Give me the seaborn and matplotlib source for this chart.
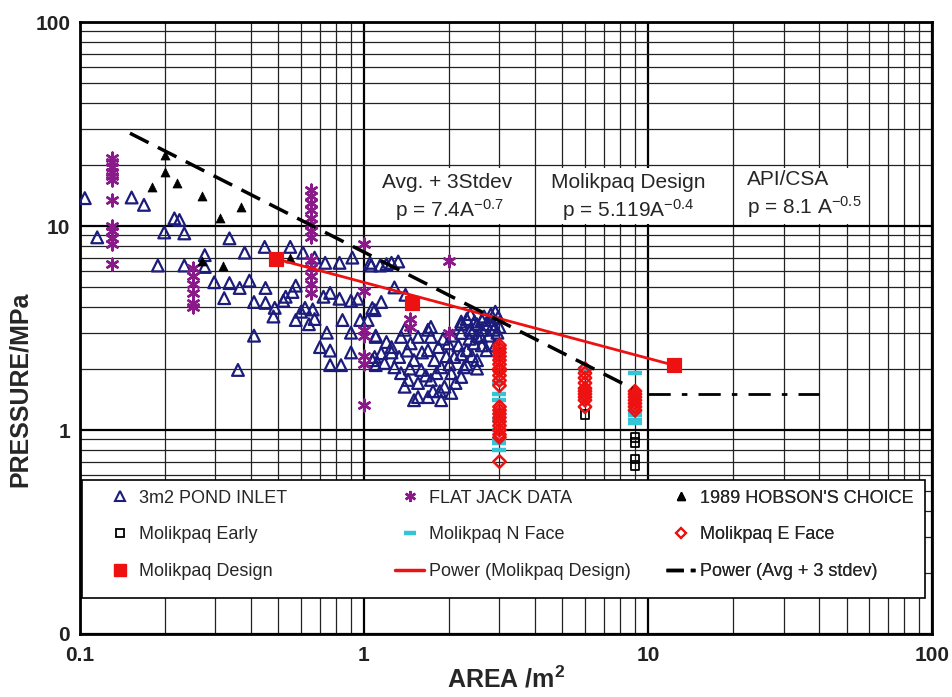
import matplotlib
matplotlib.use("Agg")
import matplotlib.pyplot as plt
from matplotlib.lines import Line2D
from matplotlib.patches import Rectangle
from matplotlib.ticker import NullFormatter
import pandas as pd
import seaborn as sns

# ---- data ----
pond_x = [0.104, 0.152, 0.168, 0.115, 0.215, 0.224, 0.198, 0.233, 0.188, 0.233,
          0.275, 0.275, 0.336, 0.38, 0.297, 0.336, 0.365, 0.395, 0.322, 0.41,
          0.447, 0.55, 0.61, 0.67, 0.73, 0.82, 0.91, 1.05, 1.14, 0.45,
          0.45, 0.485, 0.48, 0.52, 0.53, 0.575, 0.62, 0.66, 0.575, 0.67,
          0.72, 0.76, 0.82, 0.9, 0.95, 1.07, 1.1, 0.84, 0.9, 0.97,
          0.7, 0.76, 0.9, 0.76, 0.83, 0.41, 0.36, 1.07, 1.1, 0.56,
          0.6, 0.64, 0.74, 1.2, 1.32, 1.4,
          1.06, 1.25, 1.28, 1.15, 1.09, 1.1, 1.03, 1.15, 1.25, 1.35,
          1.39, 1.33, 1.46, 1.55, 1.5, 1.43, 1.39, 1.55, 1.59, 1.5,
          1.68, 1.72, 1.77, 1.68, 1.83, 1.72, 1.87, 1.92, 1.87, 2.03,
          2.03, 2.08, 1.98, 2.2, 2.25, 2.3, 2.2, 2.37, 2.5, 2.44,
          2.6, 2.58, 2.8, 2.86, 2.7, 2.97, 3.0, 2.5, 2.37, 2.2,
          1.68, 1.72, 1.09, 1.18, 1.28, 2.2,
          2.3, 2.4, 2.5, 2.6, 2.65, 2.7, 2.75, 2.8, 2.85, 2.9,
          2.95, 2.9, 2.6, 2.35, 2.45, 2.15, 2.05, 1.95, 1.8, 1.75,
          1.65, 1.6, 1.45, 1.55, 1.35, 1.25, 1.2, 1.42, 2.1, 2.3,
          2.5, 2.4, 1.9, 1.85, 2.0, 2.2]
pond_y = [13.7, 13.8, 12.7, 8.8, 10.9, 10.7, 9.3, 9.2, 6.4, 6.4,
          7.2, 6.3, 8.7, 7.4, 5.3, 5.25, 4.97, 5.4, 4.43, 4.24,
          7.9, 7.9, 7.4, 7.0, 6.6, 6.6, 7.0, 6.6, 6.4, 4.97,
          4.2, 3.97, 3.6, 4.3, 4.5, 5.1, 3.97, 3.9, 3.46, 3.5,
          4.5, 4.7, 4.4, 4.3, 4.4, 3.96, 2.9, 3.46, 3.0, 3.46,
          2.55, 2.45, 2.4, 2.08, 2.08, 2.9, 1.97, 2.2, 2.08, 4.75,
          3.8, 3.3, 3.0, 6.5, 6.7, 4.6,
          6.4, 6.6, 5.0, 4.24, 3.87, 2.86, 3.46, 2.38, 2.55, 2.86,
          3.1, 2.28, 2.66, 2.86, 2.2, 1.76, 1.63, 1.7, 1.97, 1.4,
          1.45, 1.76, 2.2, 2.46, 2.55, 2.86, 2.03, 1.63, 1.4, 1.52,
          1.9, 2.28, 2.66, 3.3, 2.03, 2.46, 1.82, 3.1, 3.3, 2.66,
          3.46, 2.86, 3.46, 3.1, 2.46, 3.58, 3.2, 2.2, 3.7, 2.99,
          3.1, 3.2, 2.28, 2.13, 2.03, 3.4,
          3.5, 3.0, 2.9, 3.1, 3.6, 3.3, 2.9, 3.7, 3.3, 2.6,
          3.0, 3.8, 2.6, 2.8, 3.4, 2.6, 2.9, 2.3, 1.9, 1.55,
          1.85, 2.4, 2.0, 1.45, 1.9, 2.4, 2.7, 2.45, 1.7, 2.1,
          2.0, 2.3, 2.8, 1.55, 2.1, 2.35]

flat_x = [0.13] * 12 + [0.25] * 6 + [0.65] * 13 + [1.0] * 7 + [1.45] * 2 + [2.0] * 2
flat_y = [21.5, 20.5, 19.5, 18.5, 17.5, 16.8, 13.4, 10.0, 9.4, 8.7, 8.2, 6.5,
          6.2, 5.7, 5.2, 4.7, 4.2, 4.0,
          15.0, 14.0, 13.0, 12.0, 11.0, 10.2, 9.5, 8.8, 6.8, 6.2, 5.7, 5.2, 4.7,
          8.2, 4.8, 3.1, 2.9, 2.3, 2.1, 1.33,
          3.5, 3.2,
          6.7, 3.0]

hobson_x = [0.2, 0.2, 0.18, 0.22, 0.27, 0.37, 0.31, 0.32, 0.27, 0.55]
hobson_y = [22.3, 18.4, 15.5, 16.3, 14.0, 12.4, 10.9, 6.4, 6.7, 7.0]

early_x = [6, 9, 9, 9, 9]
early_y = [1.19, 0.92, 0.87, 0.72, 0.67]

nface_x = [3] * 8 + [6] + [9] * 5
nface_y = [1.7, 1.5, 1.4, 1.12, 1.0, 0.9, 0.86, 0.8,
           2.0,
           1.9, 1.22, 1.18, 1.12, 1.08]

eface_x = [3] * 21 + [6] * 10 + [9] * 7
eface_y = [2.6, 2.5, 2.4, 2.3, 2.2, 2.1, 2.0, 1.95, 1.85, 1.75, 1.65,
           1.3, 1.25, 1.2, 1.15, 1.1, 1.05, 1.0, 0.95, 0.92, 0.7,
           2.0, 1.9, 1.8, 1.7, 1.6, 1.55, 1.5, 1.45, 1.4, 1.3,
           1.55, 1.5, 1.45, 1.4, 1.35, 1.3, 1.25]

design_x = [0.49, 1.47, 12.3]
design_y = [6.9, 4.2, 2.08]

fit_design_x = [0.49, 12.3]
fit_design_y = [6.9, 2.08]

fit_avg_x = [0.15, 8.8]
fit_avg_y = [28.5, 1.6]

api_x = [10, 40]
api_y = [1.5, 1.5]

xticks = [0.1, 1, 10, 100]
xtick_labels = ["0.1", "1", "10", "100"]
yticks = [0.1, 1, 10, 100]
ytick_labels = ["0", "1", "10", "100"]

NAVY = "#1c1c7c"
PURPLE = "#8a1a8a"
CYAN = "#33c4d8"
RED = "#ee1111"

sns.set_style("white")
plt.rcParams["font.family"] = ["Liberation Sans", "DejaVu Sans"]
plt.rcParams["mathtext.default"] = "regular"

fig = plt.figure(figsize=(9.52, 6.97), dpi=100)
ax = fig.add_axes([0.084, 0.0904, 0.895, 0.878])
ax.set_xscale("log")
ax.set_yscale("log")

# scatter series
sns.scatterplot(data=pd.DataFrame({"x": pond_x, "y": pond_y}), x="x", y="y", ax=ax,
                marker="^", s=72, facecolors="none", edgecolor=NAVY, linewidth=1.6, zorder=3)
sns.scatterplot(data=pd.DataFrame({"x": flat_x, "y": flat_y}), x="x", y="y", ax=ax,
                marker=(6, 2, 0), s=70, color=PURPLE, linewidth=1.8, zorder=3)
sns.scatterplot(data=pd.DataFrame({"x": hobson_x, "y": hobson_y}), x="x", y="y", ax=ax,
                marker="^", s=42, color="black", edgecolor="black", zorder=3)
sns.scatterplot(data=pd.DataFrame({"x": early_x, "y": early_y}), x="x", y="y", ax=ax,
                marker="s", s=36, facecolors="none", edgecolor="black", linewidth=1.3, zorder=3)
sns.scatterplot(data=pd.DataFrame({"x": nface_x, "y": nface_y}), x="x", y="y", ax=ax,
                marker="_", s=100, color=CYAN, linewidth=3.2, zorder=3)
sns.scatterplot(data=pd.DataFrame({"x": eface_x, "y": eface_y}), x="x", y="y", ax=ax,
                marker="D", s=40, facecolors="none", edgecolor=RED, linewidth=1.8, zorder=4)

# fitted lines
sns.lineplot(x=fit_design_x, y=fit_design_y, ax=ax, color=RED, linewidth=2, zorder=5)
sns.lineplot(x=fit_avg_x, y=fit_avg_y, ax=ax, color="black", linewidth=2.5,
             zorder=5).lines[-1].set_dashes([6, 3])
sns.lineplot(x=api_x, y=api_y, ax=ax, color="black", linewidth=2,
             zorder=5).lines[-1].set_dashes([8, 4, 2, 4])
sns.scatterplot(x=design_x, y=design_y, ax=ax, marker="s", s=110, color=RED,
                edgecolor=RED, zorder=6)

ax.set_xlim(0.1, 100)
ax.set_ylim(0.1, 100)
ax.set_xticks(xticks, labels=xtick_labels)
ax.set_yticks(yticks, labels=ytick_labels)
ax.xaxis.set_minor_formatter(NullFormatter())
ax.yaxis.set_minor_formatter(NullFormatter())
ax.tick_params(which="both", direction="in", labelsize=15, length=5, color="black")
ax.tick_params(axis="y", pad=7)
ax.tick_params(axis="x", pad=9)
for lab in ax.get_xticklabels() + ax.get_yticklabels():
    lab.set_fontweight("bold")
    lab.set_color("#222222")

ax.grid(which="major", color="black", linewidth=1.6)
ax.grid(which="minor", color="#222222", linewidth=0.9)
ax.set_axisbelow(True)
for sp in ax.spines.values():
    sp.set_linewidth(2)
    sp.set_color("black")

ax.set_xlabel("AREA /m$^2$", fontsize=18, fontweight="bold")
ax.set_ylabel("PRESSURE/MPa", fontsize=18, fontweight="bold")
ax.xaxis.set_label_coords(0.5, -0.052)
ax.yaxis.set_label_coords(-0.056, 0.40)

# equation boxes
for x0, w in [(0.349, 0.156), (0.549, 0.182), (0.777, 0.135)]:
    ax.add_patch(Rectangle((x0, 0.670), w, 0.0915, transform=ax.transAxes,
                           facecolor="white", edgecolor="none", zorder=7))
ax.text(0.431, 0.737, "Avg. + 3Stdev", transform=ax.transAxes, fontsize=15,
        ha="center", va="center", zorder=8)
ax.text(0.434, 0.693, "p = 7.4A$^{-0.7}$", transform=ax.transAxes, fontsize=15,
        ha="center", va="center", zorder=8)
ax.text(0.644, 0.737, "Molikpaq Design", transform=ax.transAxes, fontsize=15,
        ha="center", va="center", zorder=8)
ax.text(0.643, 0.693, "p = 5.119A$^{-0.4}$", transform=ax.transAxes, fontsize=15,
        ha="center", va="center", zorder=8)
ax.text(0.783, 0.742, "API/CSA", transform=ax.transAxes, fontsize=15,
        ha="left", va="center", zorder=8)
ax.text(0.783, 0.698, "p = 8.1 A$^{-0.5}$", transform=ax.transAxes, fontsize=15,
        ha="left", va="center", zorder=8)

# legend box drawn as a patch, three legends as equal-width columns
ax.add_patch(Rectangle((0.0023, 0.0588), 0.989, 0.193, transform=ax.transAxes,
                       facecolor="white", edgecolor="black", linewidth=1.2, zorder=7))

h_pond = Line2D([], [], ls="none", marker="^", ms=7, mfc="none", mec=NAVY, mew=1.5)
h_flat = Line2D([], [], ls="none", marker=(6, 2, 0), ms=8, color=PURPLE, mew=1.8)
h_hob = Line2D([], [], ls="none", marker="^", ms=6, color="black")
h_early = Line2D([], [], ls="none", marker="s", ms=6, mfc="none", mec="black", mew=1.3)
h_nface = Line2D([], [], ls="none", marker="_", ms=9, color=CYAN, mew=3.2)
h_eface = Line2D([], [], ls="none", marker="D", ms=5.5, mfc="none", mec=RED, mew=1.5)
h_design = Line2D([], [], ls="none", marker="s", ms=9, color=RED)
h_pdes = Line2D([], [], color=RED, lw=2.5)
h_pavg = Line2D([], [], color="black", lw=2.5, dashes=[5, 2])

columns = [
    (0.0305, [h_pond, h_early, h_design], ["3m2 POND INLET", "Molikpaq Early", "Molikpaq Design"]),
    (0.370, [h_flat, h_nface, h_pdes], ["FLAT JACK DATA", "Molikpaq N Face", "Power (Molikpaq Design)"]),
    (0.688, [h_hob, h_eface, h_pavg], ["1989 HOBSON'S CHOICE", "Molikpaq E Face", "Power (Avg + 3 stdev)"]),
]
for xa, hs, ls in columns:
    leg = ax.legend(hs, ls, loc="upper left", bbox_to_anchor=(xa, 0.236),
                    frameon=False, fontsize=13, handlelength=1.6, handletextpad=0.25,
                    labelspacing=1.1, borderpad=0, borderaxespad=0)
    leg.set_zorder(9)
    ax.add_artist(leg)

fig.savefig("out.png", dpi=100)
